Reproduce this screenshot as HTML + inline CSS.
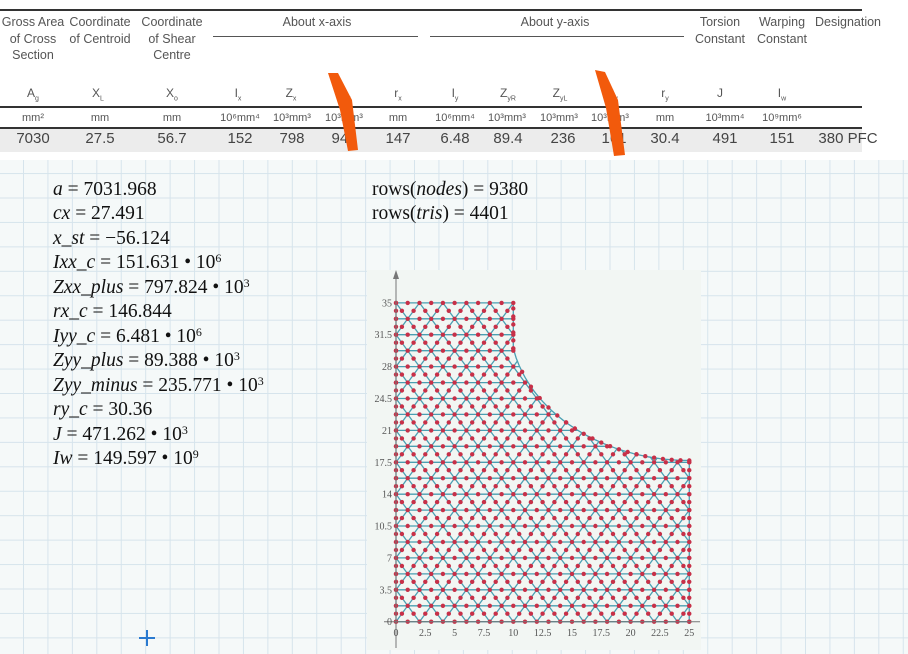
<!DOCTYPE html>
<html><head><meta charset="utf-8"><style>
*{margin:0;padding:0}
body{width:908px;height:654px;position:relative;overflow:hidden;background:#f5f9f9;font-family:"Liberation Sans",sans-serif}
#grid{position:absolute;left:0;top:0;width:908px;height:654px;
background-image:linear-gradient(to right,#d6e4ec 1.2px,transparent 1.2px),linear-gradient(to bottom,#d6e4ec 1.2px,transparent 1.2px);
background-size:24.45px 24.45px;background-position:23px 2px}
#tbl{position:absolute;left:0;top:0;width:908px;height:160px;background:#fff;color:#555;font-size:12.5px}
.c{position:absolute;text-align:center;white-space:nowrap;transform:translateX(-50%);line-height:16.5px}
.m{position:absolute;font-family:"Liberation Serif",serif;font-size:19.5px;line-height:22px;height:22px;color:#111;white-space:nowrap}
.m i{font-style:italic}
.m sup{font-size:12px;position:relative;top:-6px;vertical-align:baseline;line-height:0}
</style></head><body>
<div id="grid"></div>
<div id="tbl">
<div style="position:absolute;left:0;top:9px;width:862px;height:1.5px;background:#333"></div>
<div style="position:absolute;left:0;top:106px;width:862px;height:1.5px;background:#333"></div>
<div style="position:absolute;left:0;top:127px;width:862px;height:1.5px;background:#333"></div>
<div style="position:absolute;left:0;top:129px;width:862px;height:23px;background:#ececec"></div>
<div style="position:absolute;left:213px;top:36px;width:205px;height:1px;background:#555"></div>
<div style="position:absolute;left:430px;top:36px;width:254px;height:1px;background:#555"></div>
<div class="c" style="left:33px;top:14px">Gross Area<br>of Cross<br>Section</div>
<div class="c" style="left:100px;top:14px">Coordinate<br>of Centroid</div>
<div class="c" style="left:172px;top:14px">Coordinate<br>of Shear<br>Centre</div>
<div class="c" style="left:317px;top:14px">About x-axis</div>
<div class="c" style="left:555px;top:14px">About y-axis</div>
<div class="c" style="left:720px;top:14px">Torsion<br>Constant</div>
<div class="c" style="left:782px;top:14px">Warping<br>Constant</div>
<div class="c" style="left:848px;top:14px">Designation</div>
<div style="position:absolute;top:85px;left:0;width:908px;font-size:12px">
<span class="c" style="left:33px">A<sub style="font-size:7px">g</sub></span><span class="c" style="left:98px">X<sub style="font-size:7px">L</sub></span><span class="c" style="left:172px">X<sub style="font-size:7px">o</sub></span><span class="c" style="left:238px">I<sub style="font-size:7px">x</sub></span><span class="c" style="left:291px">Z<sub style="font-size:7px">x</sub></span><span class="c" style="left:345px">S<sub style="font-size:7px">x</sub></span><span class="c" style="left:398px">r<sub style="font-size:7px">x</sub></span><span class="c" style="left:455px">I<sub style="font-size:7px">y</sub></span><span class="c" style="left:508px">Z<sub style="font-size:7px">yR</sub></span><span class="c" style="left:560px">Z<sub style="font-size:7px">yL</sub></span><span class="c" style="left:612px">S<sub style="font-size:7px">y</sub></span><span class="c" style="left:665px">r<sub style="font-size:7px">y</sub></span><span class="c" style="left:720px">J</span><span class="c" style="left:782px">I<sub style="font-size:7px">w</sub></span></div>
<div style="position:absolute;top:110px;left:0;width:908px;font-size:11px">
<span class="c" style="left:33px">mm²</span><span class="c" style="left:100px">mm</span><span class="c" style="left:172px">mm</span><span class="c" style="left:240px">10⁶mm⁴</span><span class="c" style="left:292px">10³mm³</span><span class="c" style="left:344px">10³mm³</span><span class="c" style="left:398px">mm</span><span class="c" style="left:455px">10⁶mm⁴</span><span class="c" style="left:507px">10³mm³</span><span class="c" style="left:559px">10³mm³</span><span class="c" style="left:610px">10³mm³</span><span class="c" style="left:665px">mm</span><span class="c" style="left:725px">10³mm⁴</span><span class="c" style="left:782px">10⁹mm⁶</span></div>
<div style="position:absolute;top:131px;left:0;width:908px;font-size:15px;color:#444">
<span class="c" style="left:33px">7030</span><span class="c" style="left:100px">27.5</span><span class="c" style="left:172px">56.7</span><span class="c" style="left:240px">152</span><span class="c" style="left:292px">798</span><span class="c" style="left:344px">946</span><span class="c" style="left:398px">147</span><span class="c" style="left:455px">6.48</span><span class="c" style="left:508px">89.4</span><span class="c" style="left:563px">236</span><span class="c" style="left:614px">161</span><span class="c" style="left:665px">30.4</span><span class="c" style="left:725px">491</span><span class="c" style="left:782px">151</span><span class="c" style="left:848px">380 PFC</span></div>
<svg style="position:absolute;left:0;top:0" width="908" height="160">
<path d="M328,73 L338,73 L352,100 L358,150 L348,151 L340,110 Z" fill="#f25a0c"/>
<path d="M595,70 L605,72 L618,100 L625,155 L614,156 L606,108 Z" fill="#f25a0c"/>
</svg>
</div>
<div class="m" style="left:53px;top:179px"><i>a</i> = 7031.968</div>
<div class="m" style="left:53px;top:203px"><i>cx</i> = 27.491</div>
<div class="m" style="left:53px;top:228px"><i>x_st</i> = −56.124</div>
<div class="m" style="left:53px;top:252px"><i>Ixx_c</i> = 151.631 • 10<sup>6</sup></div>
<div class="m" style="left:53px;top:277px"><i>Zxx_plus</i> = 797.824 • 10<sup>3</sup></div>
<div class="m" style="left:53px;top:301px"><i>rx_c</i> = 146.844</div>
<div class="m" style="left:53px;top:326px"><i>Iyy_c</i> = 6.481 • 10<sup>6</sup></div>
<div class="m" style="left:53px;top:350px"><i>Zyy_plus</i> = 89.388 • 10<sup>3</sup></div>
<div class="m" style="left:53px;top:375px"><i>Zyy_minus</i> = 235.771 • 10<sup>3</sup></div>
<div class="m" style="left:53px;top:399px"><i>ry_c</i> = 30.36</div>
<div class="m" style="left:53px;top:424px"><i>J</i> = 471.262 • 10<sup>3</sup></div>
<div class="m" style="left:53px;top:448px"><i>Iw</i> = 149.597 • 10<sup>9</sup></div>
<div class="m" style="left:372px;top:179px">rows(<i>nodes</i>) = 9380</div>
<div class="m" style="left:372px;top:203px">rows(<i>tris</i>) = 4401</div>
<div style="position:absolute;left:139px;top:637px;width:16px;height:2px;background:#2a7ad0"></div>
<div style="position:absolute;left:146px;top:630px;width:2px;height:16px;background:#2a7ad0"></div>
<svg id="plot" style="position:absolute;left:0;top:0" width="908" height="654"></svg>
<script>
var s=document.getElementById('plot'),h='';
function X(x){return 396+x*11.73}function Y(y){return 621.7-y*9.11}
var CX=25,CY=33,R=15.3;
function inR(x,y){if(x<-0.01||x>25.01||y<-0.01||y>35.01)return false;if(x<=10.01||y<=17.71)return true;return Math.hypot(x-CX,y-CY)>=R-0.05;}
h+='<rect x="367" y="270" width="334" height="380" fill="#f2f6f3"/>';
var pts=[];for(var xx=25;xx>=10;xx-=0.25){var yy=CY-Math.sqrt(Math.max(0,R*R-(xx-CX)*(xx-CX)));yy=Math.max(yy,17.7);pts.push([xx,yy]);}
var cp='M'+X(0)+','+Y(0)+' L'+X(25)+','+Y(0);
pts.forEach(function(p){cp+=' L'+X(p[0]).toFixed(1)+','+Y(p[1]).toFixed(1)});
cp+=' L'+X(10)+','+Y(35)+' L'+X(0)+','+Y(35)+'Z';
h+='<defs><clipPath id="cl"><path d="'+cp+'"/></clipPath></defs>';
var dx=2,dy=1.75,L='',D='';
for(var j=0;j<=20;j++){var off=(j%2)?1:0;for(var i=-1;i<=14;i++){var x=i*dx+off,y=j*dy;
 [[dx,0],[dx/2,dy],[-dx/2,dy]].forEach(function(d){var x2=x+d[0],y2=y+d[1];
  L+='M'+X(x).toFixed(1)+','+Y(y).toFixed(1)+'L'+X(x2).toFixed(1)+','+Y(y2).toFixed(1);
  var mx=x+d[0]/2,my=y+d[1]/2;if(inR(mx,my))D+='<circle cx="'+X(mx).toFixed(1)+'" cy="'+Y(my).toFixed(1)+'" r="2.2"/>';});
 if(inR(x,y))D+='<circle cx="'+X(x).toFixed(1)+'" cy="'+Y(y).toFixed(1)+'" r="2.2"/>';}}
for(var y=0;y<=35;y+=0.875){D+='<circle cx="'+X(0)+'" cy="'+Y(y).toFixed(1)+'" r="2.2"/>';}
for(var y=0;y<=17.7;y+=0.875){D+='<circle cx="'+X(25)+'" cy="'+Y(y).toFixed(1)+'" r="2.2"/>';}
for(var y=30;y<=35;y+=0.875){D+='<circle cx="'+X(10)+'" cy="'+Y(y).toFixed(1)+'" r="2.2"/>';}
for(var k=0;k<pts.length;k+=3){D+='<circle cx="'+X(pts[k][0]).toFixed(1)+'" cy="'+Y(pts[k][1]).toFixed(1)+'" r="2.2"/>';}
h+='<g clip-path="url(#cl)"><path d="'+L+'" stroke="#4a9fb2" stroke-width="1.3" fill="none"/></g>';
h+='<path d="'+cp+'" stroke="#4a9fb2" stroke-width="1.3" fill="none"/>';
h+='<g fill="#c73048">'+D+'</g>';
h+='<line x1="396" y1="272" x2="396" y2="648" stroke="#777" stroke-width="1"/><path d="M393,279 L396,270 L399,279Z" fill="#777"/>';
h+='<line x1="384" y1="621.7" x2="700" y2="621.7" stroke="#777" stroke-width="1"/>';
var yl=['0','3.5','7','10.5','14','17.5','21','24.5','28','31.5','35'];
yl.forEach(function(v,k){h+='<text x="392" y="'+(Y(k*3.5)+3.5).toFixed(1)+'" text-anchor="end" font-family="Liberation Serif,serif" font-size="10" fill="#555">'+v+'</text>';});
for(var k=0;k<=10;k++){var v=k*2.5;h+='<text x="'+X(v).toFixed(1)+'" y="636" text-anchor="middle" font-family="Liberation Serif,serif" font-size="10" fill="#555">'+v+'</text>';}
s.innerHTML=h;
</script>
</body></html>
